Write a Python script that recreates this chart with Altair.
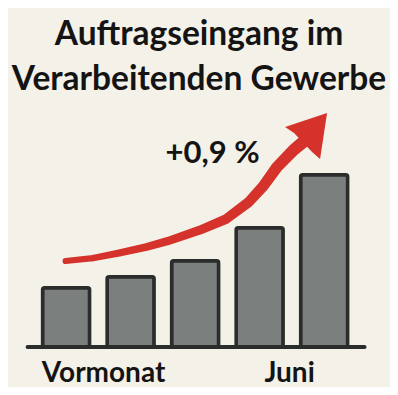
import altair as alt
import pandas as pd

# Bars
bar_pos = [1, 2, 3, 4, 5]
bar_val = [34.1, 40.4, 49.6, 68.5, 99.0]

# Arrow (decorative trend curve) in data units
arrow_x = [0.992, 1.415, 1.822, 2.245, 2.577, 3.075, 3.483, 3.830, 4.056, 4.268, 4.524, 4.675]
arrow_y = [49.4, 51.1, 54.0, 57.5, 60.9, 67.2, 73.6, 83.3, 92.5, 103.4, 113.2, 117.8]
arrow_w = [6, 6.5, 7.1, 7.7, 8.3, 9.0, 9.7, 10.3, 10.9, 11.4, 11.9, 12.3]
head_x = [4.735]
head_y = [120.7]

# Labels
label_text = ["Vormonat", "Juni"]
label_x = [1.581, 4.464]
change_text = ["+0,9 %"]
change_x = [3.27]
change_y = [105.7]
base_x = [0.403]
base_x2 = [5.626]

FONT = "Lato"
BG = "#f4f1e8"

xs = alt.Scale(domain=[0.177, 5.943], nice=False, zero=False)
ys = alt.Scale(domain=[0, 137.4], nice=False, zero=False)

bars_df = pd.DataFrame({"x": bar_pos, "v": bar_val})
arrow_df = pd.DataFrame({"x": arrow_x, "y": arrow_y, "w": arrow_w, "o": list(range(len(arrow_x)))})
head_df = pd.DataFrame({"x": head_x, "y": head_y})
lab_df = pd.DataFrame({"t": label_text, "x": label_x, "y": [0, 0]})
chg_df = pd.DataFrame({"t": change_text, "x": change_x, "y": change_y})
base_df = pd.DataFrame({"x": base_x, "x2": base_x2, "y": [0]})

bars = alt.Chart(bars_df).mark_bar(
    size=47, fill="#7b7f7d", stroke="#2a2d2c", strokeWidth=3.5, cornerRadius=2
).encode(
    x=alt.X("x:Q", scale=xs, axis=None),
    y=alt.Y("v:Q", scale=ys, axis=None),
)

base = alt.Chart(base_df).mark_rule(color="#2a2d2c", strokeWidth=4, strokeCap="round").encode(
    x=alt.X("x:Q", scale=xs, axis=None),
    x2="x2:Q",
    y=alt.Y("y:Q", scale=ys, axis=None),
)

trail = alt.Chart(arrow_df).mark_trail(color="#d4322b", strokeCap="round").encode(
    x=alt.X("x:Q", scale=xs, axis=None),
    y=alt.Y("y:Q", scale=ys, axis=None),
    size=alt.Size("w:Q", scale=None, legend=None),
    order="o:Q",
)

head = alt.Chart(head_df).mark_point(
    shape="M0.833,-1L0.542,0.917L0.208,0.625L-0.542,-0.167L-0.917,-0.417Z",
    size=2304, filled=True, color="#d4322b", opacity=1, strokeWidth=0,
).encode(
    x=alt.X("x:Q", scale=xs, axis=None),
    y=alt.Y("y:Q", scale=ys, axis=None),
)

labels = alt.Chart(lab_df).mark_text(
    font=FONT, fontSize=28, fontWeight="bold", color="#141414", dy=35, baseline="alphabetic"
).encode(
    x=alt.X("x:Q", scale=xs, axis=None),
    y=alt.Y("y:Q", scale=ys, axis=None),
    text="t:N",
)

change = alt.Chart(chg_df).mark_text(
    font=FONT, fontSize=31, fontWeight="bold", color="#141414", baseline="alphabetic"
).encode(
    x=alt.X("x:Q", scale=xs, axis=None),
    y=alt.Y("y:Q", scale=ys, axis=None),
    text="t:N",
)

chart = alt.layer(trail, head, bars, base, labels, change).properties(
    width=382,
    height=239,
    padding={"left": 0, "top": 100, "right": 0, "bottom": 40},
    autosize=alt.AutoSizeParams(type="none"),
    background=BG,
    title=alt.TitleParams(
        ["Auftragseingang im", "Verarbeitenden Gewerbe"],
        font=FONT, fontSize=33.5, fontWeight="bold", color="#141414",
        lineHeight=45, anchor="middle", offset=11,
    ),
).configure_view(stroke=None)

chart.save("out.html", embed_options={"renderer": "svg", "actions": False})
